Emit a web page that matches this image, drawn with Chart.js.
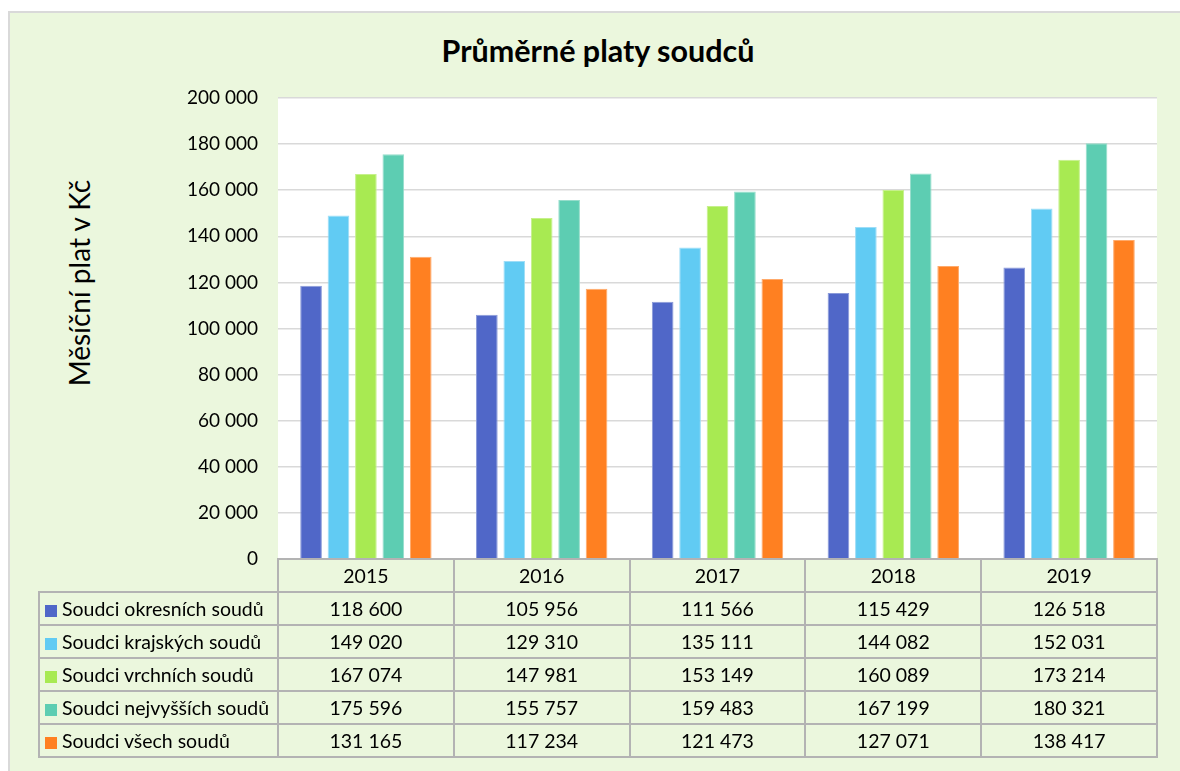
<!DOCTYPE html>
<html><head><meta charset="utf-8">
<script src="https://cdn.jsdelivr.net/npm/chart.js@4/dist/chart.umd.min.js"></script>
<style>
html,body{margin:0;padding:0;background:#fff;width:1180px;height:771px;overflow:hidden;font-family:Lato,"Open Sans",sans-serif;}
#frame{position:absolute;left:8px;top:11px;width:1200px;height:800px;background:#EBF7DD;border-left:2px solid #D9D9D9;border-top:2px solid #D9D9D9;}
#wrap{position:absolute;left:0;top:0;width:1180px;height:771px;}
#title{position:absolute;top:31px;left:0;width:1196px;text-align:center;font-weight:bold;font-size:30.5px;color:#000;line-height:38px;}
#ytitle{position:absolute;left:79px;top:283px;transform:translate(-50%,-50%) rotate(-90deg);font-size:28px;white-space:nowrap;color:#000;}
#tbl{position:absolute;border-collapse:collapse;table-layout:fixed;font-size:19.5px;color:#000;}
#tbl td{border:2px solid #B3B3B3;padding:0;text-align:center;height:31px;white-space:nowrap;overflow:hidden;}
#tbl td.blank{border:none;}
#tbl td.lab{text-align:left;padding-left:5px;}
.sq{display:inline-block;width:12px;height:12px;margin-right:5px;vertical-align:-1px;}
</style>
</head><body>
<div id="frame"></div>
<div id="title">Průměrné platy soudců</div>
<div id="ytitle">Měsíční plat v Kč</div>
<div id="wrap"><canvas id="c" width="1180" height="771"></canvas></div>
<table id="tbl"></table>
<script>
const categories = ['2015','2016','2017','2018','2019'];
const seriesNames = ['Soudci okresních soudů','Soudci krajských soudů','Soudci vrchních soudů','Soudci nejvyšších soudů','Soudci všech soudů'];
const okresni  = [118600,105956,111566,115429,126518];
const krajske  = [149020,129310,135111,144082,152031];
const vrchni   = [167074,147981,153149,160089,173214];
const nejvyssi = [175596,155757,159483,167199,180321];
const vsechny  = [131165,117234,121473,127071,138417];
const yTicks = [0,20000,40000,60000,80000,100000,120000,140000,160000,180000,200000];
const seriesColors = ['#5067C8','#61CBF3','#A8EA52','#5DCDB2','#FF8021'];
const seriesEdges  = ['#8A9AD9','#9EDDF7','#C6F08C','#96DDCB','#FFAA6B'];

const seriesValues = [okresni,krajske,vrchni,nejvyssi,vsechny];
const fmt = v => String(v).replace(/\B(?=(\d{3})+(?!\d))/g,' ');

const plotBg = {
  id:'plotBg',
  beforeDraw(chart){
    const a = chart.chartArea, ctx = chart.ctx;
    ctx.save(); ctx.fillStyle = '#FFFFFF';
    ctx.fillRect(a.left, a.top, a.right - a.left, a.bottom - a.top);
    ctx.restore();
  }
};

const chart = new Chart(document.getElementById('c'), {
  type:'bar',
  data:{
    labels:categories,
    datasets: seriesNames.map((n,i)=>({
      label:n, data:seriesValues[i],
      backgroundColor:seriesColors[i], borderColor:seriesEdges[i], borderWidth:1,
      categoryPercentage:0.78, barPercentage:0.79
    }))
  },
  options:{
    responsive:false, animation:false,
    layout:{padding:{left:0,top:98,right:23,bottom:212}},
    plugins:{legend:{display:false},title:{display:false},tooltip:{enabled:false}},
    scales:{
      x:{display:false},
      y:{
        min:0,max:200000,
        afterFit(s){ s.width = 278; },
        afterBuildTicks(s){ s.ticks = yTicks.map(v=>({value:v})); },
        ticks:{padding:20,color:'#000',font:{family:'Lato',size:19},callback:v=>fmt(v)},
        grid:{color:'#D9D9D9',lineWidth:1.5,drawTicks:false},
        border:{display:false}
      }
    }
  },
  plugins:[plotBg]
});

// data table aligned to the chart's scale
const a = chart.chartArea;
const tbl = document.getElementById('tbl');
const leftX = 39;
const colW = (a.right - a.left) / categories.length;
tbl.style.left = (leftX - 1) + 'px';
tbl.style.top = (a.bottom - 1) + 'px';
let cg = '<colgroup><col style="width:' + (a.left - leftX) + 'px">';
categories.forEach(()=>{ cg += '<col style="width:' + colW + 'px">'; });
cg += '</colgroup>';
let html = cg + '<tr><td class="blank"></td>' + categories.map(c=>'<td>'+c+'</td>').join('') + '</tr>';
seriesNames.forEach((n,i)=>{
  html += '<tr><td class="lab"><span class="sq" style="background:'+seriesColors[i]+'"></span>'+n+'</td>' +
    seriesValues[i].map(v=>'<td>'+fmt(v)+'</td>').join('') + '</tr>';
});
tbl.innerHTML = html;
tbl.style.width = (a.right - leftX + 2) + 'px';
</script>
</body></html>
